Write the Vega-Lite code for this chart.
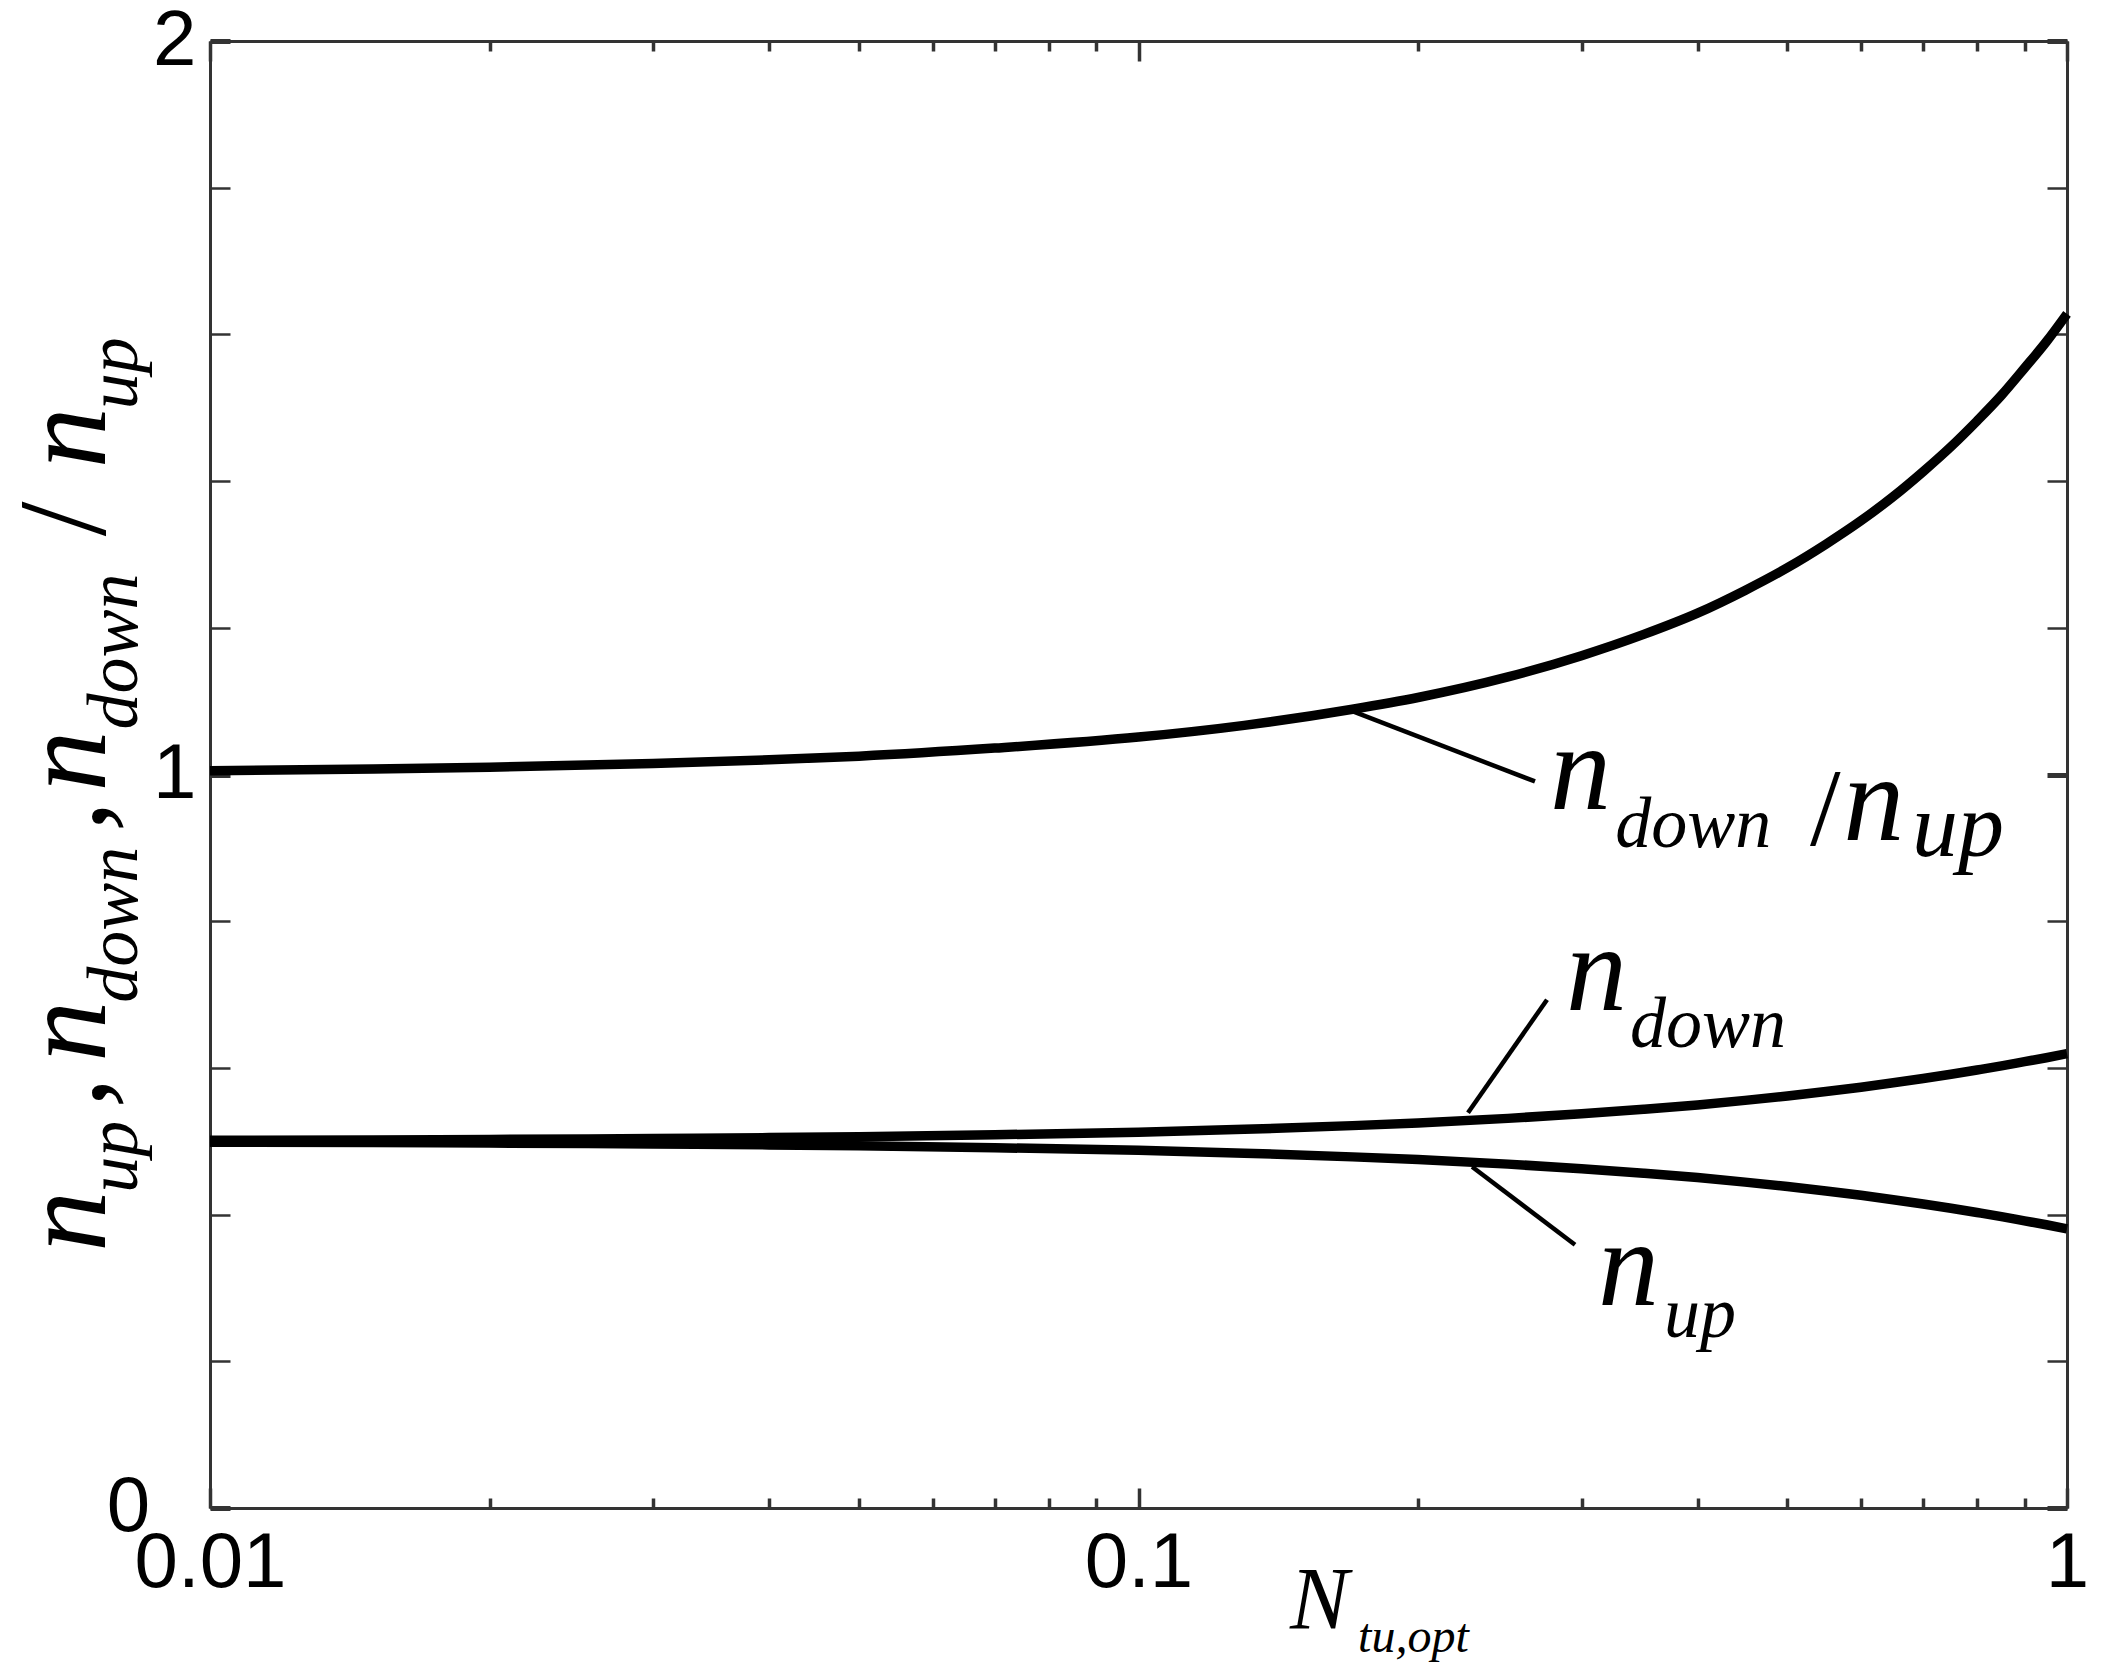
{
  "$schema": "https://vega.github.io/schema/vega-lite/v6.json",
  "width": 1857,
  "height": 1467,
  "autosize": {"type": "none"},
  "padding": {"left": 210, "top": 41, "right": 39, "bottom": 172},
  "background": "white",
  "config": {
    "view": {"stroke": null},
    "axis": {
      "grid": false,
      "title": null,
      "domainColor": "#333333",
      "domainWidth": 3,
      "tickColor": "#333333",
      "labelColor": "black",
      "labelFont": "Liberation Sans",
      "labelFontSize": 78,
      "labelFlush": false,
      "labelOverlap": false,
      "labelBound": false
    },
    "text": {"font": "Liberation Serif", "fontStyle": "italic", "color": "black", "align": "left", "baseline": "alphabetic"}
  },
  "datasets": {
    "curves": [
      {"x": 0.01, "series": "ratio", "y": 1.005},
      {"x": 0.015, "series": "ratio", "y": 1.0075},
      {"x": 0.02, "series": "ratio", "y": 1.01},
      {"x": 0.03, "series": "ratio", "y": 1.015},
      {"x": 0.04, "series": "ratio", "y": 1.02},
      {"x": 0.05, "series": "ratio", "y": 1.025},
      {"x": 0.07, "series": "ratio", "y": 1.036},
      {"x": 0.1, "series": "ratio", "y": 1.051},
      {"x": 0.13, "series": "ratio", "y": 1.067},
      {"x": 0.17, "series": "ratio", "y": 1.089},
      {"x": 0.2, "series": "ratio", "y": 1.105},
      {"x": 0.25, "series": "ratio", "y": 1.133},
      {"x": 0.3, "series": "ratio", "y": 1.162},
      {"x": 0.35, "series": "ratio", "y": 1.191},
      {"x": 0.4, "series": "ratio", "y": 1.22},
      {"x": 0.45, "series": "ratio", "y": 1.251},
      {"x": 0.5, "series": "ratio", "y": 1.282},
      {"x": 0.55, "series": "ratio", "y": 1.314},
      {"x": 0.6, "series": "ratio", "y": 1.346},
      {"x": 0.65, "series": "ratio", "y": 1.379},
      {"x": 0.7, "series": "ratio", "y": 1.413},
      {"x": 0.75, "series": "ratio", "y": 1.447},
      {"x": 0.8, "series": "ratio", "y": 1.482},
      {"x": 0.85, "series": "ratio", "y": 1.517},
      {"x": 0.9, "series": "ratio", "y": 1.554},
      {"x": 0.95, "series": "ratio", "y": 1.59},
      {"x": 1.0, "series": "ratio", "y": 1.628},
      {"x": 0.01, "series": "down", "y": 0.50125},
      {"x": 0.015, "series": "down", "y": 0.50187},
      {"x": 0.02, "series": "down", "y": 0.50249},
      {"x": 0.03, "series": "down", "y": 0.50372},
      {"x": 0.04, "series": "down", "y": 0.50495},
      {"x": 0.05, "series": "down", "y": 0.50617},
      {"x": 0.07, "series": "down", "y": 0.50884},
      {"x": 0.1, "series": "down", "y": 0.51243},
      {"x": 0.13, "series": "down", "y": 0.51621},
      {"x": 0.17, "series": "down", "y": 0.5213},
      {"x": 0.2, "series": "down", "y": 0.52494},
      {"x": 0.25, "series": "down", "y": 0.53118},
      {"x": 0.3, "series": "down", "y": 0.53747},
      {"x": 0.35, "series": "down", "y": 0.54359},
      {"x": 0.4, "series": "down", "y": 0.54955},
      {"x": 0.45, "series": "down", "y": 0.55575},
      {"x": 0.5, "series": "down", "y": 0.56179},
      {"x": 0.55, "series": "down", "y": 0.56785},
      {"x": 0.6, "series": "down", "y": 0.57374},
      {"x": 0.65, "series": "down", "y": 0.57966},
      {"x": 0.7, "series": "down", "y": 0.58558},
      {"x": 0.75, "series": "down", "y": 0.59134},
      {"x": 0.8, "series": "down", "y": 0.5971},
      {"x": 0.85, "series": "down", "y": 0.6027},
      {"x": 0.9, "series": "down", "y": 0.60846},
      {"x": 0.95, "series": "down", "y": 0.6139},
      {"x": 1.0, "series": "down", "y": 0.61948},
      {"x": 0.01, "series": "up", "y": 0.49875},
      {"x": 0.015, "series": "up", "y": 0.49813},
      {"x": 0.02, "series": "up", "y": 0.49751},
      {"x": 0.03, "series": "up", "y": 0.49628},
      {"x": 0.04, "series": "up", "y": 0.49505},
      {"x": 0.05, "series": "up", "y": 0.49383},
      {"x": 0.07, "series": "up", "y": 0.49116},
      {"x": 0.1, "series": "up", "y": 0.48757},
      {"x": 0.13, "series": "up", "y": 0.48379},
      {"x": 0.17, "series": "up", "y": 0.4787},
      {"x": 0.2, "series": "up", "y": 0.47506},
      {"x": 0.25, "series": "up", "y": 0.46882},
      {"x": 0.3, "series": "up", "y": 0.46253},
      {"x": 0.35, "series": "up", "y": 0.45641},
      {"x": 0.4, "series": "up", "y": 0.45045},
      {"x": 0.45, "series": "up", "y": 0.44425},
      {"x": 0.5, "series": "up", "y": 0.43821},
      {"x": 0.55, "series": "up", "y": 0.43215},
      {"x": 0.6, "series": "up", "y": 0.42626},
      {"x": 0.65, "series": "up", "y": 0.42034},
      {"x": 0.7, "series": "up", "y": 0.41442},
      {"x": 0.75, "series": "up", "y": 0.40866},
      {"x": 0.8, "series": "up", "y": 0.4029},
      {"x": 0.85, "series": "up", "y": 0.3973},
      {"x": 0.9, "series": "up", "y": 0.39154},
      {"x": 0.95, "series": "up", "y": 0.3861},
      {"x": 1.0, "series": "up", "y": 0.38052}
    ],
    "leaders": [
      {"x": 0.1702, "y": 1.086, "x2": 0.2673, "y2": 0.9905},
      {"x": 0.2264, "y": 0.5389, "x2": 0.2754, "y2": 0.693},
      {"x": 0.2287, "y": 0.4652, "x2": 0.2952, "y2": 0.3588}
    ],
    "labels": [
      {"role": "n", "x": 0.2774, "y": 0.9523, "text": "n"},
      {"role": "n", "x": 0.574, "y": 0.9113, "text": "n"},
      {"role": "n", "x": 0.2886, "y": 0.6794, "text": "n"},
      {"role": "n", "x": 0.3125, "y": 0.2769, "text": "n"},
      {"role": "sub", "x": 0.3261, "y": 0.9018, "text": "down"},
      {"role": "subbig", "x": 0.6807, "y": 0.8895, "text": "up"},
      {"role": "sub", "x": 0.3383, "y": 0.6289, "text": "down"},
      {"role": "sub", "x": 0.3681, "y": 0.2333, "text": "up"},
      {"role": "slash", "x": 0.5288, "y": 0.9045, "text": "/"},
      {"role": "xtitle", "x": 0.1456, "y": -0.1637, "text": "N"},
      {"role": "xsub", "x": 0.1724, "y": -0.1965, "text": "tu,opt"},
      {"role": "zero", "x": 0.008619, "y": 0, "text": "0"},
      {"role": "yn", "x": 0.007706, "y": 0.3493, "text": "n"},
      {"role": "yn", "x": 0.007706, "y": 0.5457, "text": ","},
      {"role": "yn", "x": 0.007706, "y": 0.6085, "text": "n"},
      {"role": "yn", "x": 0.007706, "y": 0.9222, "text": ","},
      {"role": "yn", "x": 0.007706, "y": 0.9768, "text": "n"},
      {"role": "yn", "x": 0.007706, "y": 1.4175, "text": "n"},
      {"role": "ysub", "x": 0.008346, "y": 0.4297, "text": "up"},
      {"role": "ysub", "x": 0.008346, "y": 0.6889, "text": "down"},
      {"role": "ysub", "x": 0.008346, "y": 1.0614, "text": "down"},
      {"role": "ysub", "x": 0.008346, "y": 1.498, "text": "up"},
      {"role": "yslash", "x": 0.007706, "y": 1.3247, "text": "/"}
    ]
  },
  "layer": [
    {
      "data": {"name": "curves"},
      "mark": {"type": "line", "color": "black", "strokeWidth": 9.5, "interpolate": "monotone"},
      "encoding": {
        "x": {
          "field": "x", "type": "quantitative",
          "scale": {"type": "log", "domain": [0.01, 1], "nice": false},
          "axis": {
            "orient": "bottom",
            "values": [0.01, 0.02, 0.03, 0.04, 0.05, 0.06, 0.07, 0.08, 0.09, 0.1, 0.2, 0.3, 0.4, 0.5, 0.6, 0.7, 0.8, 0.9, 1],
            "labelExpr": "datum.value == 0.01 ? '0.01' : datum.value == 0.1 ? '0.1' : datum.value == 1 ? '1' : ''",
            "tickSize": {"condition": {"test": "datum.value == 0.01 || datum.value == 0.1 || datum.value == 1", "value": -20}, "value": -10},
            "tickWidth": 3.5,
            "labelPadding": 36
          }
        },
        "y": {
          "field": "y", "type": "quantitative",
          "scale": {"domain": [0, 2], "nice": false, "zero": false},
          "axis": {
            "orient": "left",
            "values": [0, 0.2, 0.4, 0.6, 0.8, 1, 1.2, 1.4, 1.6, 1.8, 2],
            "labelExpr": "datum.value == 1 ? '1' : datum.value == 2 ? '2' : ''",
            "tickSize": -20,
            "tickWidth": {"condition": {"test": "datum.value == 0 || datum.value == 1 || datum.value == 2", "value": 5}, "value": 2.5},
            "labelPadding": 34
          }
        },
        "detail": {"field": "series"}
      }
    },
    {
      "data": {"name": "leaders"},
      "mark": {"type": "rule", "color": "black", "strokeWidth": 4.5},
      "encoding": {
        "x": {
          "field": "x", "type": "quantitative",
          "scale": {"type": "log", "domain": [0.01, 1], "nice": false},
          "axis": {
            "orient": "top",
            "values": [0.01, 0.02, 0.03, 0.04, 0.05, 0.06, 0.07, 0.08, 0.09, 0.1, 0.2, 0.3, 0.4, 0.5, 0.6, 0.7, 0.8, 0.9, 1],
            "labels": false,
            "tickSize": {"condition": {"test": "datum.value == 0.01 || datum.value == 0.1 || datum.value == 1", "value": -20}, "value": -10},
            "tickWidth": 3.5
          }
        },
        "y": {
          "field": "y", "type": "quantitative",
          "scale": {"domain": [0, 2], "nice": false, "zero": false},
          "axis": {
            "orient": "right",
            "values": [0, 0.2, 0.4, 0.6, 0.8, 1, 1.2, 1.4, 1.6, 1.8, 2],
            "labels": false,
            "tickSize": -20,
            "tickWidth": {"condition": {"test": "datum.value == 0 || datum.value == 1 || datum.value == 2", "value": 5}, "value": 2.5}
          }
        },
        "x2": {"field": "x2"},
        "y2": {"field": "y2"}
      }
    },
    {
      "data": {"name": "labels"},
      "transform": [{"filter": "datum.role == 'zero'"}],
      "mark": {"type": "text", "font": "Liberation Sans", "fontStyle": "normal", "fontSize": 78, "align": "right", "baseline": "middle"},
      "encoding": {
        "x": {"field": "x", "type": "quantitative", "scale": {"type": "log", "domain": [0.01, 1], "nice": false}, "axis": null},
        "y": {"field": "y", "type": "quantitative", "scale": {"domain": [0, 2], "nice": false, "zero": false}, "axis": null},
        "text": {"field": "text"}
      }
    },
    {
      "data": {"name": "labels"},
      "transform": [{"filter": "datum.role == 'n'"}],
      "mark": {"type": "text", "fontSize": 122},
      "encoding": {
        "x": {"field": "x", "type": "quantitative", "scale": {"type": "log", "domain": [0.01, 1], "nice": false}, "axis": null},
        "y": {"field": "y", "type": "quantitative", "scale": {"domain": [0, 2], "nice": false, "zero": false}, "axis": null},
        "text": {"field": "text"}
      }
    },
    {
      "data": {"name": "labels"},
      "transform": [{"filter": "datum.role == 'sub'"}],
      "mark": {"type": "text", "fontSize": 72},
      "encoding": {
        "x": {"field": "x", "type": "quantitative", "scale": {"type": "log", "domain": [0.01, 1], "nice": false}, "axis": null},
        "y": {"field": "y", "type": "quantitative", "scale": {"domain": [0, 2], "nice": false, "zero": false}, "axis": null},
        "text": {"field": "text"}
      }
    },
    {
      "data": {"name": "labels"},
      "transform": [{"filter": "datum.role == 'subbig'"}],
      "mark": {"type": "text", "fontSize": 92},
      "encoding": {
        "x": {"field": "x", "type": "quantitative", "scale": {"type": "log", "domain": [0.01, 1], "nice": false}, "axis": null},
        "y": {"field": "y", "type": "quantitative", "scale": {"domain": [0, 2], "nice": false, "zero": false}, "axis": null},
        "text": {"field": "text"}
      }
    },
    {
      "data": {"name": "labels"},
      "transform": [{"filter": "datum.role == 'slash'"}],
      "mark": {"type": "text", "fontSize": 110, "fontStyle": "normal"},
      "encoding": {
        "x": {"field": "x", "type": "quantitative", "scale": {"type": "log", "domain": [0.01, 1], "nice": false}, "axis": null},
        "y": {"field": "y", "type": "quantitative", "scale": {"domain": [0, 2], "nice": false, "zero": false}, "axis": null},
        "text": {"field": "text"}
      }
    },
    {
      "data": {"name": "labels"},
      "transform": [{"filter": "datum.role == 'xtitle'"}],
      "mark": {"type": "text", "fontSize": 88},
      "encoding": {
        "x": {"field": "x", "type": "quantitative", "scale": {"type": "log", "domain": [0.01, 1], "nice": false}, "axis": null},
        "y": {"field": "y", "type": "quantitative", "scale": {"domain": [0, 2], "nice": false, "zero": false}, "axis": null},
        "text": {"field": "text"}
      }
    },
    {
      "data": {"name": "labels"},
      "transform": [{"filter": "datum.role == 'xsub'"}],
      "mark": {"type": "text", "fontSize": 48},
      "encoding": {
        "x": {"field": "x", "type": "quantitative", "scale": {"type": "log", "domain": [0.01, 1], "nice": false}, "axis": null},
        "y": {"field": "y", "type": "quantitative", "scale": {"domain": [0, 2], "nice": false, "zero": false}, "axis": null},
        "text": {"field": "text"}
      }
    },
    {
      "data": {"name": "labels"},
      "transform": [{"filter": "datum.role == 'yn'"}],
      "mark": {"type": "text", "fontSize": 122, "angle": 270},
      "encoding": {
        "x": {"field": "x", "type": "quantitative", "scale": {"type": "log", "domain": [0.01, 1], "nice": false}, "axis": null},
        "y": {"field": "y", "type": "quantitative", "scale": {"domain": [0, 2], "nice": false, "zero": false}, "axis": null},
        "text": {"field": "text"}
      }
    },
    {
      "data": {"name": "labels"},
      "transform": [{"filter": "datum.role == 'ysub'"}],
      "mark": {"type": "text", "fontSize": 72, "angle": 270},
      "encoding": {
        "x": {"field": "x", "type": "quantitative", "scale": {"type": "log", "domain": [0.01, 1], "nice": false}, "axis": null},
        "y": {"field": "y", "type": "quantitative", "scale": {"domain": [0, 2], "nice": false, "zero": false}, "axis": null},
        "text": {"field": "text"}
      }
    },
    {
      "data": {"name": "labels"},
      "transform": [{"filter": "datum.role == 'yslash'"}],
      "mark": {"type": "text", "fontSize": 125, "fontStyle": "normal", "angle": 270},
      "encoding": {
        "x": {"field": "x", "type": "quantitative", "scale": {"type": "log", "domain": [0.01, 1], "nice": false}, "axis": null},
        "y": {"field": "y", "type": "quantitative", "scale": {"domain": [0, 2], "nice": false, "zero": false}, "axis": null},
        "text": {"field": "text"}
      }
    }
  ],
  "resolve": {"axis": {"x": "independent", "y": "independent"}}
}
